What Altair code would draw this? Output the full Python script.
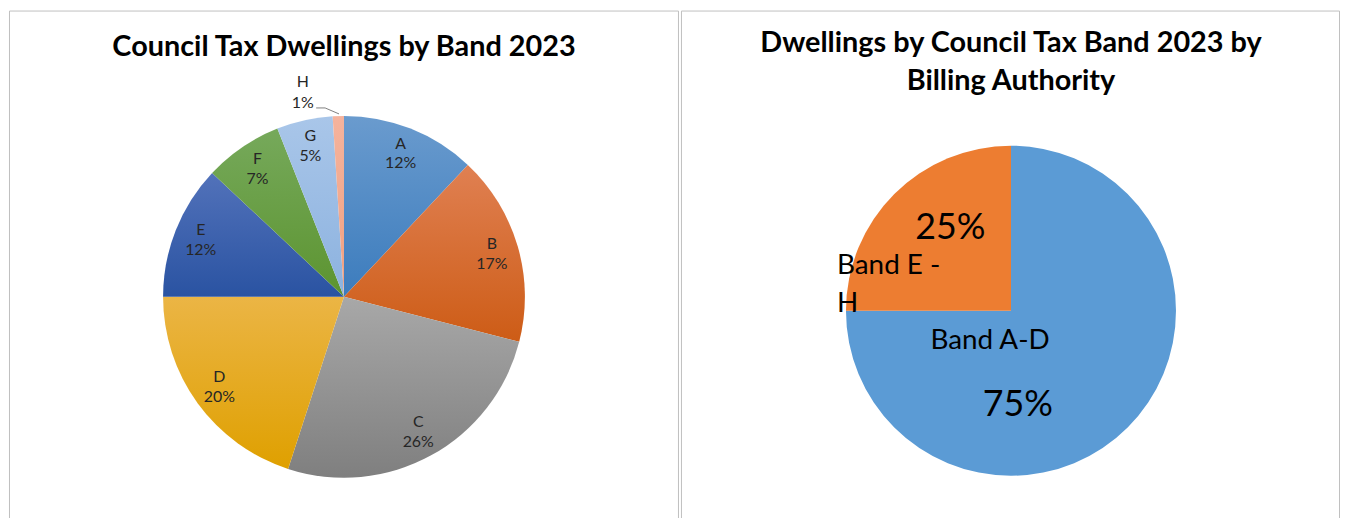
import altair as alt
import pandas as pd

# ---- data ----
bands = ["A", "B", "C", "D", "E", "F", "G", "H"]
shares = [12, 17, 26, 20, 12, 7, 5, 1]
band_top = ["#6A9BCE", "#E08052", "#A8A8A8", "#EBB545", "#5272BA", "#76A95B", "#A9C6E9", "#F5B39D"]
band_bottom = ["#3C7CBD", "#CD5C16", "#7F7F7F", "#DFA000", "#2A53A2", "#5C9430", "#8CB2DF", "#F0A080"]

groups = ["Band A-D", "Band E - H"]
group_shares = [75, 25]
group_colors = ["#5B9BD5", "#ED7D31"]

title_left = "Council Tax Dwellings by Band 2023"
title_right = ["Dwellings by Council Tax Band 2023 by", "Billing Authority"]

FONT = "Lato"

left_df = pd.DataFrame({"band": bands, "share": shares, "idx": list(range(len(bands)))})
left_df["label"] = left_df["band"] + "\n" + left_df["share"].astype(str) + "%"

right_df = pd.DataFrame({"group": groups, "share": group_shares, "idx": list(range(len(groups)))})
right_df["pct"] = right_df["share"].astype(str) + "%"
right_df["wrapped"] = right_df["group"].str.replace(" H", "|H", regex=False)

W1, W2, H = 673, 662, 515
cx1, cy1, r1 = 337, 288, 182
cx2, cy2, r2 = 332, 302, 166

# ---- left panel ----
base1 = alt.Chart(left_df).encode(
    theta=alt.Theta("share:Q", stack=True),
    order=alt.Order("idx:Q"),
    x=alt.value(cx1),
    y=alt.value(cy1),
)

arc_layers = []
for b, c0, c1 in zip(bands, band_top, band_bottom):
    grad = alt.LinearGradient(
        gradient="linear",
        stops=[alt.GradientStop(offset=0, color=c0), alt.GradientStop(offset=1, color=c1)],
        x1=0, x2=0, y1=0, y2=1,
    )
    arc_layers.append(
        base1.mark_arc(outerRadius=r1, fill=grad).encode(
            opacity=alt.condition(f"datum.band == '{b}'", alt.value(1), alt.value(0))
        )
    )

labels1 = base1.mark_text(
    radius=155, dy=-10, fontSize=16, lineHeight=20, lineBreak="\n", font=FONT,
    color="#262626", align="center", baseline="middle"
).encode(text=alt.condition("datum.band != 'H'", alt.Text("label:N"), alt.value("")))
labelH = base1.mark_text(
    radius=205, dx=-35, dy=-11, fontSize=16, lineHeight=21, lineBreak="\n", font=FONT,
    color="#262626", align="center", baseline="middle"
).encode(text=alt.condition("datum.band == 'H'", alt.Text("label:N"), alt.value("")))

one = pd.DataFrame({"k": [0]})
leader1 = alt.Chart(one).mark_rule(color="#7F7F7F", strokeWidth=1).encode(
    x=alt.value(309), x2=alt.value(318), y=alt.value(98), y2=alt.value(98))
leader2 = alt.Chart(one).mark_rule(color="#7F7F7F", strokeWidth=1).encode(
    x=alt.value(318), x2=alt.value(332), y=alt.value(98), y2=alt.value(104))

t1 = alt.Chart(one).mark_text(
    text=title_left, font=FONT, fontSize=29, fontWeight="bold", color="#000000",
    align="center", baseline="middle"
).encode(x=alt.value(337), y=alt.value(37))

left = alt.layer(*arc_layers, labels1, labelH, leader1, leader2, t1).properties(width=W1, height=H)

# ---- right panel ----
base2 = alt.Chart(right_df).encode(
    theta=alt.Theta("share:Q", stack=True),
    order=alt.Order("idx:Q"),
    x=alt.value(cx2),
    y=alt.value(cy2),
)
arcs2 = base2.mark_arc(outerRadius=r2).encode(
    color=alt.Color("group:N", scale=alt.Scale(domain=groups, range=group_colors), legend=None)
)

def lab(text_field, row, x, y, size, align="center"):
    return alt.Chart(right_df).transform_filter(f"datum.idx == {row}").mark_text(
        font=FONT, fontSize=size, color="#000000", align=align, baseline="middle",
        lineBreak="|", lineHeight=38
    ).encode(text=alt.Text(text_field), x=alt.value(x), y=alt.value(y))

pct_ad = lab("pct:N", 0, 339, 397, 36)
pct_eh = lab("pct:N", 1, 271, 219, 36)
name_ad = lab("group:N", 0, 251, 332, 28, align="left")
name_eh = lab("wrapped:N", 1, 157, 257, 28, align="left")

t2 = alt.Chart(one).mark_text(
    text=title_right, font=FONT, fontSize=29, fontWeight="bold", color="#000000",
    align="center", baseline="middle", lineHeight=38
).encode(x=alt.value(332), y=alt.value(33))

right = alt.layer(arcs2, pct_ad, pct_eh, name_ad, name_eh, t2).properties(width=W2, height=H)

chart = (
    alt.hconcat(left, right, spacing=1)
    .resolve_scale(color="independent")
    .properties(padding=0)
    .configure_view(stroke="#BFBFBF", strokeWidth=1)
)

chart.save("out.html", embed_options={"renderer": "svg", "actions": False})
